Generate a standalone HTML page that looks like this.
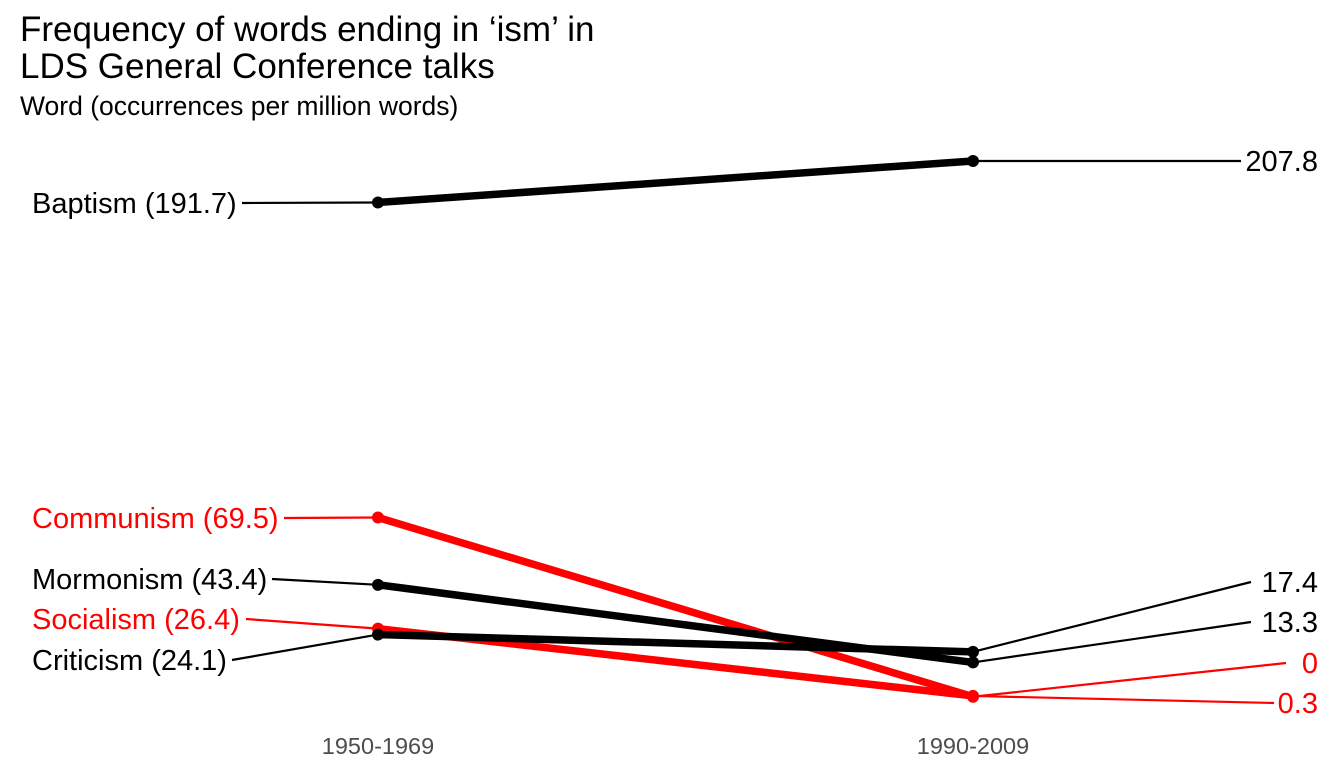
<!DOCTYPE html>
<html><head><meta charset="utf-8"><style>
body{margin:0;background:#fff;font-family:"Liberation Sans",Arial,sans-serif}
</style></head><body>
<svg id="chart" width="1344" height="768" xmlns="http://www.w3.org/2000/svg">
<text x="20" y="41" font-size="35" fill="#000">Frequency of words ending in ‘ism’ in</text>
<text x="20" y="78" font-size="35" fill="#000">LDS General Conference talks</text>
<text x="20" y="115" font-size="26.5" fill="#000">Word (occurrences per million words)</text>
<text x="378" y="754" font-size="23.5" fill="#4d4d4d" text-anchor="middle">1950-1969</text>
<text x="973" y="754" font-size="23.5" fill="#4d4d4d" text-anchor="middle">1990-2009</text>
<g id="marks"></g>
</svg>
<script>
const words = ["Baptism","Communism","Mormonism","Socialism","Criticism"];
const v1950 = [191.7, 69.5, 43.4, 26.4, 24.1];
const v1990 = [207.8, 0, 13.3, 0.3, 17.4];
const colors = ["#000","#ff0000","#000","#ff0000","#000"];
// label layout (repelled label positions, pixels)
const leftLabelY = [203, 518, 579, 619, 660];
const leftLabelEnd = [238, 280, 268, 242, 228];
const rightLabelY = [161, 663, 622, 703, 582];
const rightLabelStart = [1245, 1290, 1255, 1278, 1255];

const xL = 378, xR = 973;
const y = v => 161 + (207.8 - v) * 2.578;
const NS = "http://www.w3.org/2000/svg";
const g = document.getElementById("marks");
function mk(tag, attrs){const e=document.createElementNS(NS,tag);for(const k in attrs)e.setAttribute(k,attrs[k]);g.appendChild(e);return e;}
words.forEach((w,i)=>{
  const c = colors[i];
  const ll = mk("line",{x1:leftLabelEnd[i]+4,y1:leftLabelY[i],x2:xL,y2:y(v1950[i]),stroke:c,"stroke-width":2.2});
  
  
  const rl = mk("line",{x1:xR,y1:y(v1990[i]),x2:rightLabelStart[i]-4,y2:rightLabelY[i],stroke:c,"stroke-width":2.2});
  
  
});
words.forEach((w,i)=>{
  const c = colors[i];
  const ln = mk("line",{x1:xL,y1:y(v1950[i]),x2:xR,y2:y(v1990[i]),stroke:c,"stroke-width":7.5});
  
  
  const p1 = mk("circle",{cx:xL,cy:y(v1950[i]),r:6,fill:c});
  
  
  const p2 = mk("circle",{cx:xR,cy:y(v1990[i]),r:6,fill:c});
  
  
  const t1 = mk("text",{x:32,y:leftLabelY[i]+10,"font-size":29,fill:c});
  t1.textContent = w+" ("+v1950[i]+")";
  
  
  const t2 = mk("text",{x:1318,y:rightLabelY[i]+10,"font-size":29,fill:c,"text-anchor":"end"});
  t2.textContent = String(v1990[i]);
  
  
});
</script>
</body></html>
